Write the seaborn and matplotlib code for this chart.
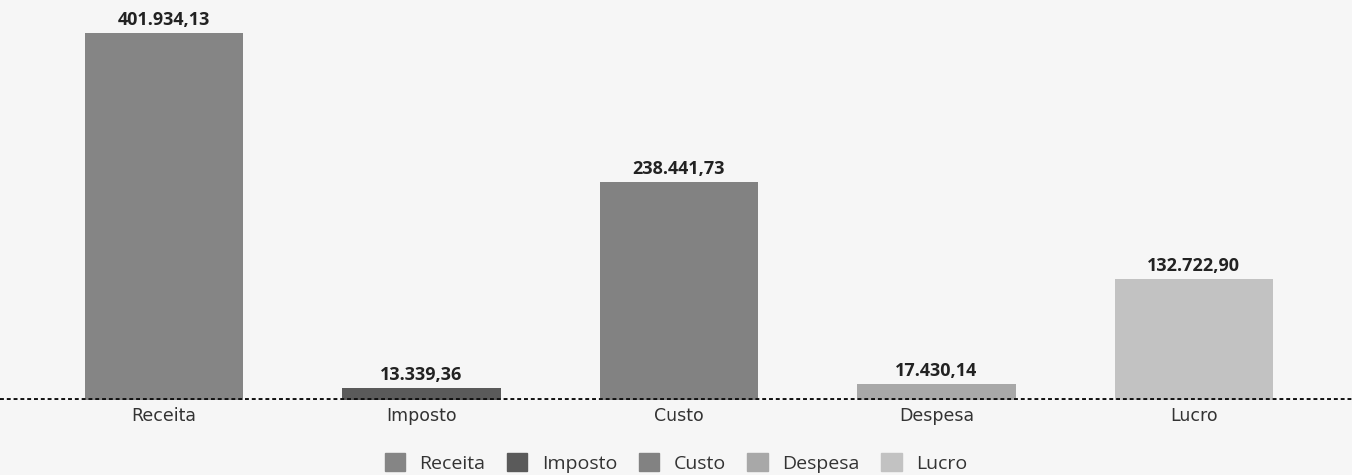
import numpy as np
import pandas as pd
import matplotlib.pyplot as plt
import seaborn as sns

categorias = ["Receita", "Imposto", "Custo", "Despesa", "Lucro"]
valores = [401934.13, 13339.36, 238441.73, 17430.14, 132722.90]
rotulos = ["401.934,13", "13.339,36", "238.441,73", "17.430,14", "132.722,90"]
cores = ["#858585", "#5a5a5a", "#828282", "#a8a8a8", "#c2c2c2"]

sns.set_theme(style="white")
plt.rcParams["font.family"] = ["Open Sans", "DejaVu Sans"]

df = pd.DataFrame({"cat": categorias, "valor": valores})

fig = plt.figure(figsize=(13.52, 4.75), dpi=100)
fig.patch.set_facecolor("#f6f6f6")
ax = fig.add_axes([0, 75 / 475, 1, 400 / 475])
ax.set_facecolor("#f6f6f6")

sns.barplot(data=df, x="cat", y="valor", hue="cat", palette=cores,
            width=0.615, saturation=1, linewidth=0, legend=False, ax=ax)

for i, (v, r) in enumerate(zip(valores, rotulos)):
    ax.text(i, v + 4500, r, ha="center", va="bottom", fontsize=13,
            fontweight="bold", color="#222222")

# linha pontilhada da base
ax.axhline(0, color="#111111", linestyle=(0, (1, 0.75)), linewidth=2.8,
           zorder=5)
ax.set_xlim(-0.637, 4.614)
ax.set_ylim(0, 438000)
ax.set_xlabel("")
ax.set_ylabel("")
ax.set_yticks([])
ax.tick_params(axis="x", length=0, pad=5, labelcolor="#333333")
for lbl in ax.get_xticklabels():
    lbl.set_fontfamily("DejaVu Sans")
    lbl.set_fontsize(12.5)
for s in ax.spines.values():
    s.set_visible(False)

handles = [plt.Rectangle((0, 0), 1, 1, color=c) for c in cores]
ax.legend(handles, categorias, loc="center", bbox_to_anchor=(0.5, -0.158),
          ncol=5, frameon=False, fontsize=14, handlelength=1.05, handleheight=1.05,
          columnspacing=1.1, handletextpad=0.75, labelcolor="#333333")

fig.savefig("out.png", dpi=100, facecolor=fig.get_facecolor())
